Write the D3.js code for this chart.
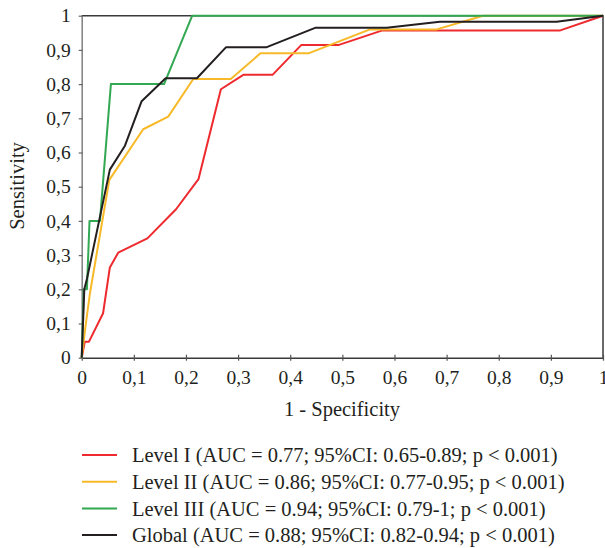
<!DOCTYPE html>
<html>
<head>
<meta charset="utf-8">
<script src="https://cdn.jsdelivr.net/npm/d3@7"></script>
<style>
  body { margin: 0; background: #fff; }
  svg text { font-family: "Liberation Serif", "DejaVu Serif", serif; fill: #231f20; }
</style>
</head>
<body>
<svg id="chart" width="605" height="548"></svg>
<script>
// ROC points, [1 - specificity, sensitivity]
var levelI = [[0,0],[0.006,0.047],[0.014,0.047],[0.041,0.13],[0.054,0.264],[0.070,0.307],[0.126,0.349],
  [0.181,0.434],[0.224,0.522],[0.267,0.785],[0.31,0.827],[0.366,0.827],[0.421,0.914],[0.492,0.914],
  [0.577,0.957],[0.918,0.957],[1,1]];
var levelII = [[0,0],[0.008,0.1],[0.016,0.19],[0.053,0.52],[0.118,0.668],[0.166,0.705],[0.214,0.815],
  [0.286,0.815],[0.343,0.89],[0.435,0.89],[0.553,0.96],[0.681,0.96],[0.77,1],[1,1]];
var levelIII = [[0,0],[0.004,0.2],[0.01,0.2],[0.015,0.4],[0.035,0.4],[0.056,0.8],[0.158,0.8],[0.212,1],[1,1]];
var global = [[0,0],[0.005,0.2],[0.01,0.23],[0.054,0.55],[0.083,0.62],[0.115,0.75],[0.161,0.817],
  [0.221,0.817],[0.277,0.908],[0.355,0.908],[0.449,0.965],[0.585,0.965],[0.687,0.982],[0.911,0.982],[1,1]];

var seriesNames = ['Level I (AUC = 0.77; 95%CI: 0.65-0.89; p < 0.001)',
  'Level II (AUC = 0.86; 95%CI: 0.77-0.95; p < 0.001)',
  'Level III (AUC = 0.94; 95%CI: 0.79-1; p < 0.001)',
  'Global (AUC = 0.88; 95%CI: 0.82-0.94; p < 0.001)'];
var seriesColors = ['#ee2a2e', '#f7b928', '#32a852', '#231f20'];
var ticks = [0, 0.1, 0.2, 0.3, 0.4, 0.5, 0.6, 0.7, 0.8, 0.9, 1];

var svg = d3.select('#chart');
var x = d3.scaleLinear().domain([0, 1]).range([81.7, 603]);
var y = d3.scaleLinear().domain([0, 1]).range([357.7, 15.7]);
var fmt = function(d) { return d === 0 || d === 1 ? String(d) : d3.format('.1f')(d).replace('.', ','); };

// frame top / right
svg.append('path')
  .attr('d', 'M' + x(0) + ',' + y(1) + 'H' + x(1) + 'V' + y(0))
  .attr('fill', 'none').attr('stroke', '#3a3a3a').attr('stroke-width', 1.5);

var xAxis = svg.append('g').attr('transform', 'translate(0,' + y(0) + ')')
  .call(d3.axisBottom(x).tickValues(ticks).tickFormat(fmt).tickSizeInner(3).tickSizeOuter(0).tickPadding(10));
xAxis.select('.domain').attr('stroke', '#3a3a3a').attr('stroke-width', 1.5);
xAxis.selectAll('.tick line').attr('stroke', '#555').attr('y1', -3).attr('stroke-width', 1.2);
xAxis.selectAll('text').attr('font-size', 19.5).attr('font-family', null).attr('dy', '0.68em');

var yAxis = svg.append('g').attr('transform', 'translate(' + x(0) + ',0)')
  .call(d3.axisLeft(y).tickValues(ticks).tickFormat(fmt).tickSizeInner(3).tickSizeOuter(0).tickPadding(8));
yAxis.select('.domain').attr('stroke', '#808080').attr('stroke-width', 1.5);
yAxis.selectAll('.tick line').attr('stroke', '#666').attr('x2', -3).attr('x1', 1).attr('stroke-width', 1.2);
yAxis.selectAll('text').attr('font-size', 19.5).attr('font-family', null);

var line = d3.line().x(function(d) { return x(d[0]); }).y(function(d) { return y(d[1]); });

svg.selectAll('path.roc')
  .data([levelI, levelII, levelIII, global])
  .enter().append('path')
  .attr('class', 'roc')
  .attr('d', line)
  .attr('fill', 'none')
  .attr('stroke', function(d, i) { return seriesColors[i]; })
  .attr('stroke-width', 2)
  .attr('stroke-linejoin', 'round');

svg.append('text').attr('x', 342).attr('y', 416).attr('text-anchor', 'middle')
  .attr('font-size', 20.5).text('1 - Specificity');
svg.append('text').attr('transform', 'translate(24,186) rotate(-90)').attr('text-anchor', 'middle')
  .attr('font-size', 20.5).text('Sensitivity');

var legend = svg.append('g').selectAll('g')
  .data(seriesNames)
  .enter().append('g')
  .attr('transform', function(d, i) { return 'translate(82,' + (455 + i * 26.7) + ')'; });
legend.append('line').attr('x1', 0).attr('x2', 35)
  .attr('stroke', function(d, i) { return seriesColors[i]; }).attr('stroke-width', 2);
legend.append('text').attr('x', 50).attr('dy', '0.35em').attr('font-size', 20.5).text(function(d) { return d; });
</script>
</body>
</html>
